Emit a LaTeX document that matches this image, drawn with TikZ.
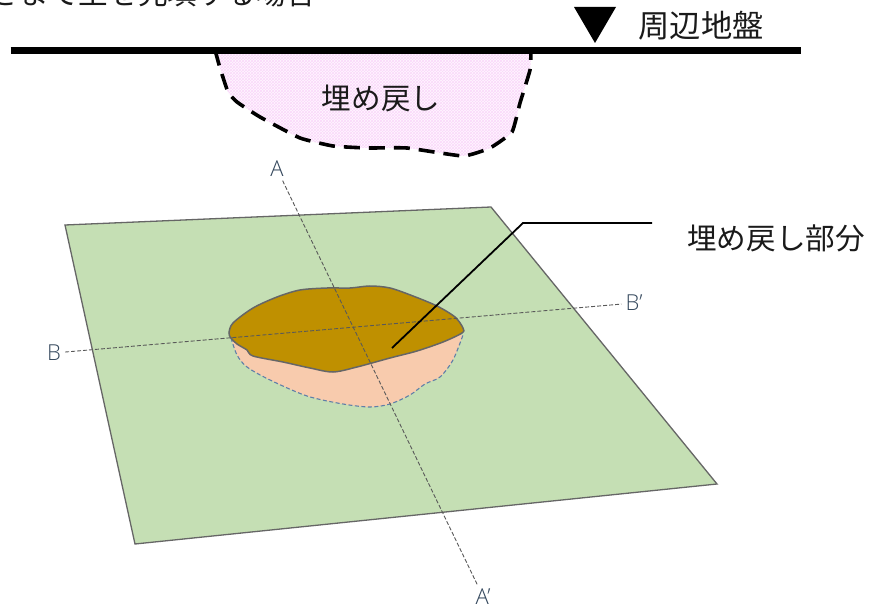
\documentclass[tikz,border=0pt]{standalone}
\usepackage{fontspec}
\setmainfont{Noto Sans CJK JP}
\newfontfamily\latinlabel[UprightFont=* Light]{Open Sans}
\usetikzlibrary{patterns}
\definecolor{plane}{HTML}{C5DFB4}
\definecolor{edgegray}{HTML}{666666}
\definecolor{brownfill}{HTML}{BF9000}
\definecolor{peach}{HTML}{F8CBAD}
\definecolor{bluedash}{HTML}{5F7FA8}
\definecolor{pinkbase}{HTML}{FFF6FF}
\definecolor{pinkhatch}{HTML}{FAD8FA}
\definecolor{labelink}{HTML}{33475C}
\definecolor{jtext}{HTML}{1A1A1A}
\tikzset{
  jlabel/.style={inner sep=0pt,text=jtext,font=\fontsize{29.6}{32}\selectfont},
  jlabelbig/.style={inner sep=0pt,text=jtext,font=\fontsize{31.3}{33}\selectfont},
  seclabel/.style={inner sep=0pt,text=labelink,font=\latinlabel\fontsize{22}{24}\selectfont},
  secline/.style={draw=black!65,line width=0.9pt,dash pattern=on 4pt off 2pt,shorten >=4pt,shorten <=4pt},
  leader/.style={draw=black,line width=1.8pt},
  ground/.style={draw=black,line width=7.5pt},
  fillarea/.style={pattern=crosshatch,pattern color=pinkhatch},
  fillborder/.style={draw=black,line width=3.6pt,dash pattern=on 16pt off 9pt},
}
\begin{document}
\begin{tikzpicture}[x=1pt,y=-1pt]
\clip (0,0) rectangle (871,607);
\fill[white] (0,0) rectangle (871,607);

% section: filled pit
\fill[pinkbase] plot[smooth,tension=0.25] coordinates {(215,50) (220,68) (228,92) (237,102) (260,117) (300,138) (333,146) (367,148) (407,148) (463,156) (490,148) (512,132) (520,103) (530,70) (531,50)} -- cycle;
\fill[fillarea] plot[smooth,tension=0.25] coordinates {(215,50) (220,68) (228,92) (237,102) (260,117) (300,138) (333,146) (367,148) (407,148) (463,156) (490,148) (512,132) (520,103) (530,70) (531,50)} -- cycle;
\draw[fillborder] plot[smooth,tension=0.25] coordinates {(215,50) (220,68) (228,92) (237,102) (260,117) (300,138) (333,146) (367,148) (407,148) (463,156) (490,148) (512,132) (520,103) (530,70) (531,50)};
\coordinate (gl) at (10.5,50.5);
\coordinate (gr) at (801,50.5);
\draw[ground] (gl) -- (gr);
\fill[black] (574,7) -- (616,7) -- (595,43) -- cycle;

\node[jlabel,anchor=east] (title) at (316,-7) {さまで土を充填する場合};
\node[jlabelbig] (surround) at (701,26) {周辺地盤};
\node[jlabel] (fill) at (381,98) {埋め戻し};

% plan
\draw[fill=plane,draw=edgegray,line width=1.3pt] (65,225) -- (491,207) -- (717,484) -- (135,544) -- cycle;
\draw[fill=peach,draw=bluedash,line width=1.1pt,dash pattern=on 4pt off 2.5pt] plot[smooth,tension=0.5] coordinates {(231,338) (237,355) (247,367) (270,380) (307,396) (343,404) (370,407) (390,404) (410,395) (425,384) (440,377) (453,360) (463,335)};
\draw[fill=brownfill,draw=edgegray,line width=1.5pt] plot[smooth cycle,tension=0.5] coordinates {(229,333) (233,323) (253,308) (277,297) (300,290) (327,288) (350,288) (370,286) (390,288) (413,296) (437,306) (455,317) (463,328) (462,333) (443,342) (417,351) (390,358) (357,367) (333,372) (310,368) (283,362) (253,356) (247,350) (237,344) (231,338)};

\node[seclabel] (A) at (277,169) {A};
\node[seclabel] (Ap) at (483,596.5) {A’};
\node[seclabel] (B) at (54,353) {B};
\node[seclabel] (Bp) at (634,303) {B’};
\draw[secline] (A) -- (Ap);
\draw[secline] (B) -- (Bp);

\node[jlabel] (part) at (776,238) {埋め戻し部分};
\coordinate (lstart) at (392,348);
\coordinate (lbend) at (523,223);
\coordinate (lend) at (652,223);
\draw[leader] (lstart) -- (lbend) -- (lend);
\end{tikzpicture}
\end{document}
